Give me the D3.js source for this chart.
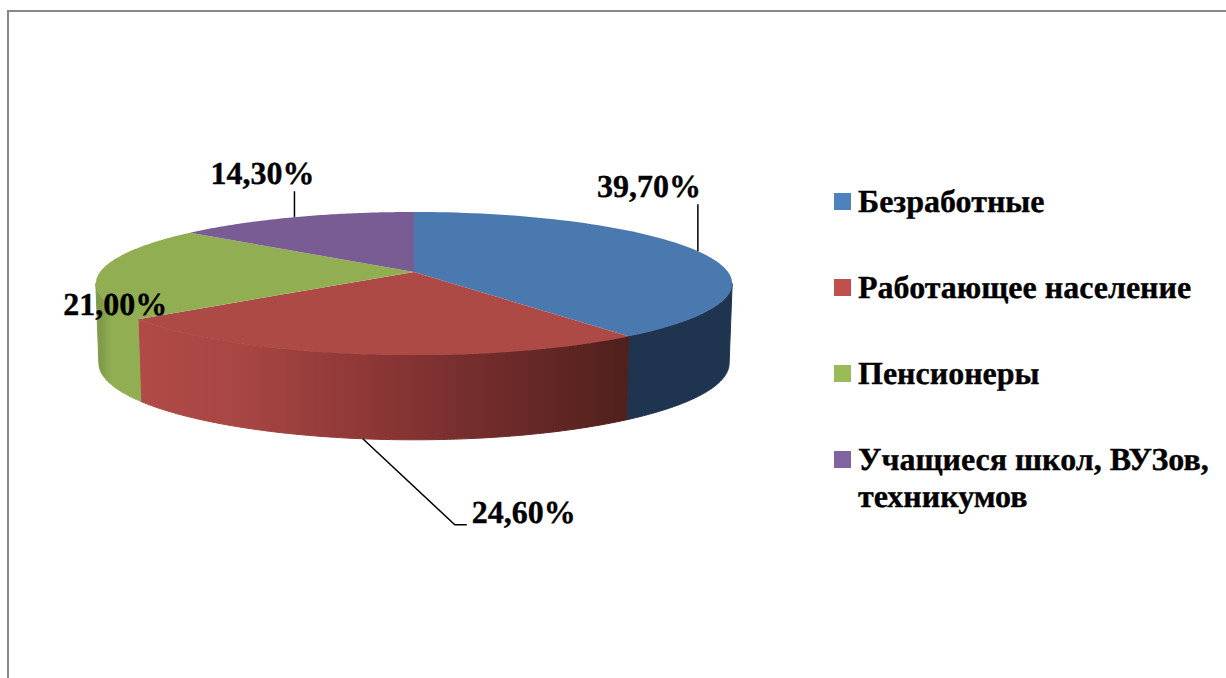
<!DOCTYPE html>
<html>
<head>
<meta charset="utf-8">
<script src="https://cdn.jsdelivr.net/npm/d3@7"></script>
<style>
    html, body { margin: 0; padding: 0; background: #fff; overflow: hidden; }
    text { font-family: "Liberation Serif", serif; font-weight: bold; fill: #000; stroke: #000; stroke-width: 0.35; text-rendering: geometricPrecision; }
</style>
</head>
<body>
<svg id="chart" width="1226" height="678"></svg>
<script>
    'use strict';

    const categories = ['Безработные', 'Работающее население', 'Пенсионеры', 'Учащиеся школ, ВУЗов, техникумов'];
    const values = [39.7, 24.6, 21.0, 14.3];
    const topColors = ['#4a79b0', '#ae4a46', '#92ae53', '#7a5c94'];
    const legendColors = ['#4f81bd', '#c0504d', '#9bbb59', '#8064a2'];

    const width = 1226;
    const height = 678;

    // the tilted disc: perspective makes the front edge deeper than the back edge
    const perspective = 0.161;
    const discX = 414;
    const topY = 272;
    const bottomY = 351;
    const topRadius = {x: 314, y: 69.7};
    const bottomRadius = {x: 311, y: 74.5};

    function project(angle, radius, centerY, fraction) {
        var u = Math.sin(angle) * fraction;
        var v = -Math.cos(angle) * fraction;
        var s = 1 / (1 - perspective * v);

        return [discX + radius.x * u * s, centerY + radius.y * v * s];
    }

    function arcAngles(start, end) {
        return d3.range(0, 81).map(function (i) { return start + (end - start) * i / 80; });
    }

    var svg = d3.select('#chart');
    var line = d3.line();
    var formatLabel = d3.formatLocale({decimal: ',', thousands: ' ', grouping: [3], currency: ['', '']}).format('.2f');

    svg.append('path')
        .attr('d', line([[width, 11], [8, 11], [8, height]]))
        .attr('fill', 'none')
        .attr('stroke', '#888')
        .attr('stroke-width', 2);

    var slices = d3.pie().sort(null)(values);

    var defs = svg.append('defs');

    function addGradient(id, x1, x2, stops) {
        var gradient = defs.append('linearGradient')
            .attr('id', id)
            .attr('gradientUnits', 'userSpaceOnUse')
            .attr('x1', x1).attr('x2', x2)
            .attr('y1', 0).attr('y2', 0);

        stops.forEach(function (d) {
            gradient.append('stop').attr('offset', d[0]).attr('stop-color', d[1]);
        });
    }

    addGradient('wallRed', project(slices[1].endAngle, bottomRadius, bottomY, 1)[0], project(slices[1].startAngle, bottomRadius, bottomY, 1)[0],
        [[0, '#b04a46'], [0.2, '#a84643'], [0.5, '#8a3635'], [0.75, '#6d2b2a'], [1, '#50201c']]);
    addGradient('wallGreen', discX - topRadius.x, project(slices[1].endAngle, bottomRadius, bottomY, 1)[0],
        [[0, '#7f9a48'], [0.3, '#92ae53'], [1, '#92ae53']]);

    // side walls only exist between the two points where the rim turns away
    var rimRight = Math.acos(-perspective);
    var rimLeft = 2 * Math.PI - rimRight;
    var walls = [
        {start: rimRight, end: slices[0].endAngle, fill: '#1f344f'},
        {start: slices[1].startAngle, end: slices[1].endAngle, fill: 'url(#wallRed)'},
        {start: slices[2].startAngle, end: rimLeft, fill: 'url(#wallGreen)'}
    ];

    // thin stroke in the wall colour closes the light seam under the top surface
    svg.append('g').attr('class', 'walls')
        .selectAll('path')
        .data(walls)
        .join('path')
        .attr('d', function (d) {
            var angles = arcAngles(d.start, d.end);
            var upper = angles.map(function (a) { return project(a, topRadius, topY, 1); });
            var lower = angles.slice().reverse().map(function (a) { return project(a, bottomRadius, bottomY, 1); });

            return line(upper.concat(lower)) + 'Z';
        })
        .attr('fill', function (d) { return d.fill; })
        .attr('stroke', function (d) { return d.fill; })
        .attr('stroke-width', 1);

    svg.append('g').attr('class', 'slices')
        .selectAll('path')
        .data(slices)
        .join('path')
        .attr('d', function (d) {
            var rim = arcAngles(d.startAngle, d.endAngle).map(function (a) { return project(a, topRadius, topY, 1); });

            return line([[discX, topY]].concat(rim)) + 'Z';
        })
        .attr('fill', function (d, i) { return topColors[i]; });

    function midAngle(d) {
        return (d.startAngle + d.endAngle) / 2;
    }

    // leader lines start on the rim at the middle of each slice
    var blueRim = project(midAngle(slices[0]), topRadius, topY, 1);
    var redRim = project(midAngle(slices[1]), bottomRadius, bottomY, 1);
    var greenRim = project(midAngle(slices[2]), topRadius, topY, 1);
    var purpleRim = project(midAngle(slices[3]), topRadius, topY, 1);

    var labelLayout = [
        {anchor: blueRim, text: [-101, -54], leader: [[0, -47]]},
        {anchor: redRim, text: [109, 84], leader: [[92, 86], [104, 86]]},
        {anchor: greenRim, text: [-37, 43], leader: []},
        {anchor: purpleRim, text: [-84, -33], leader: [[0, -26]]}
    ];

    var labels = svg.append('g').attr('class', 'labels');

    labelLayout.forEach(function (d, i) {
        if (d.leader.length) {
            var points = [d.anchor].concat(d.leader.map(function (p) { return [d.anchor[0] + p[0], d.anchor[1] + p[1]]; }));

            labels.append('path')
                .attr('d', line(points))
                .attr('fill', 'none')
                .attr('stroke', '#000')
                .attr('stroke-width', 1.5);
        }

        labels.append('text')
            .attr('x', d.anchor[0] + d.text[0])
            .attr('y', d.anchor[1] + d.text[1])
            .attr('font-size', 32)
            .text(formatLabel(values[i]) + '%');
    });

    var legendY = d3.scalePoint().domain(categories).range([193, 451]);

    var legendRows = svg.append('g').attr('class', 'legend')
        .selectAll('g')
        .data(categories)
        .join('g')
        .attr('transform', function (d) { return 'translate(834,' + legendY(d) + ')'; });

    legendRows.append('rect')
        .attr('width', 17)
        .attr('height', 17)
        .attr('fill', function (d, i) { return legendColors[i]; });

    legendRows.append('text')
        .attr('font-size', 32)
        .attr('y', 19)
        .each(function (d) {
            var parts = d.split(', ВУЗов, ');
            var node = d3.select(this);

            if (parts.length === 1) {
                node.append('tspan').attr('x', 24).text(d);
            } else {
                node.append('tspan').attr('x', 24).text(parts[0] + ', ВУЗов,');
                node.append('tspan').attr('x', 24).attr('dy', 37).text(parts[1]);
            }
        });
</script>
</body>
</html>
